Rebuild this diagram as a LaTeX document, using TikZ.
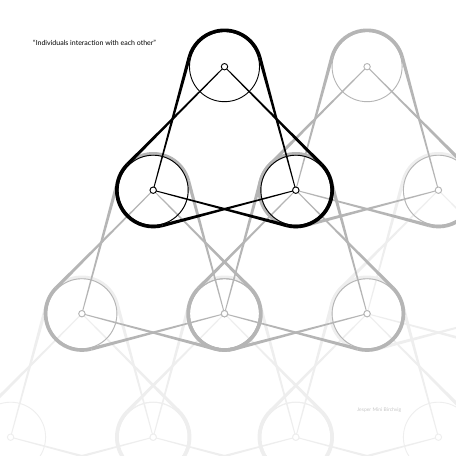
\documentclass[tikz,border=0pt]{standalone}
\usepackage{fontspec}
\setmainfont{Lato}
\usetikzlibrary{calc}
\definecolor{wheelgrey}{gray}{0.71}
\definecolor{wheelpale}{gray}{0.935}
\definecolor{signgrey}{gray}{0.78}
\def\sidex{71.3}
\def\sidey{123.5}
\def\beltr{36.5}
\def\wheelr{35}
\tikzset{
    belt/.style={line width=3.4pt},
    wheel/.style={line width=0.9pt},
    hub/.style={line width=0.9pt, fill=white}
}
% tapered strand: thick at the wheel it leaves, thin at the hub it reaches
\newcommand{\strand}[2]{%
    \fill ($(#1)!1.7pt!90:(#2)$) -- ($(#2)!0.45pt!-90:(#1)$)
        -- ($(#2)!0.45pt!90:(#1)$) -- ($(#1)!1.7pt!-90:(#2)$) -- cycle;}
% three wheels and their belt, top wheel at (#1,#2)
\newcommand{\motif}[3]{%
    \begin{scope}[shift={(#1,#2)}, color=#3]
        \coordinate (top) at (0,0);
        \coordinate (left) at (-\sidex,-\sidey);
        \coordinate (right) at (\sidex,-\sidey);
        \coordinate (top a) at ($(top)+(15:\beltr)$);
        \coordinate (top b) at ($(top)+(165:\beltr)$);
        \coordinate (left a) at ($(left)+(135:\beltr)$);
        \coordinate (left b) at ($(left)+(285:\beltr)$);
        \coordinate (right a) at ($(right)+(45:\beltr)$);
        \coordinate (right b) at ($(right)+(255:\beltr)$);
        \draw[wheel] (top) circle (\wheelr);
        \draw[wheel] (left) circle (\wheelr);
        \draw[wheel] (right) circle (\wheelr);
        \draw[belt] (top a) arc[start angle=15, end angle=165, radius=\beltr];
        \draw[belt] (left a) arc[start angle=135, end angle=285, radius=\beltr];
        \draw[belt] (right a) arc[start angle=45, end angle=-105, radius=\beltr];
        \strand{top a}{right}
        \strand{top b}{left}
        \strand{left a}{top}
        \strand{left b}{right}
        \strand{right a}{top}
        \strand{right b}{left}
        \draw[hub] (top) circle (3.2);
        \draw[hub] (left) circle (3.2);
        \draw[hub] (right) circle (3.2);
    \end{scope}}

\begin{document}
\begin{tikzpicture}[x=1pt, y=1pt]
    \useasboundingbox[fill=white] (0,0) rectangle (456,456);
    % palest row
    \motif{438.4}{265.8}{wheelpale}
    \motif{81.9}{142.3}{wheelpale}
    \motif{224.5}{142.3}{wheelpale}
    \motif{367.1}{142.3}{wheelpale}
    % grey row
    \motif{367.1}{389.3}{wheelgrey}
    \motif{153.2}{265.8}{wheelgrey}
    \motif{295.8}{265.8}{wheelgrey}
    % black one in front
    \motif{224.5}{389.3}{black}
    \node[anchor=base west, inner sep=0pt, font=\fontsize{7}{8}\selectfont] (title)
        at (33,410) {“Individuals interaction with each other”};
    \node[anchor=base west, inner sep=0pt, text=signgrey, font=\fontsize{5}{6}\selectfont] (signature)
        at (357,44) {Jesper Mini Birchvig};
\end{tikzpicture}
\end{document}
